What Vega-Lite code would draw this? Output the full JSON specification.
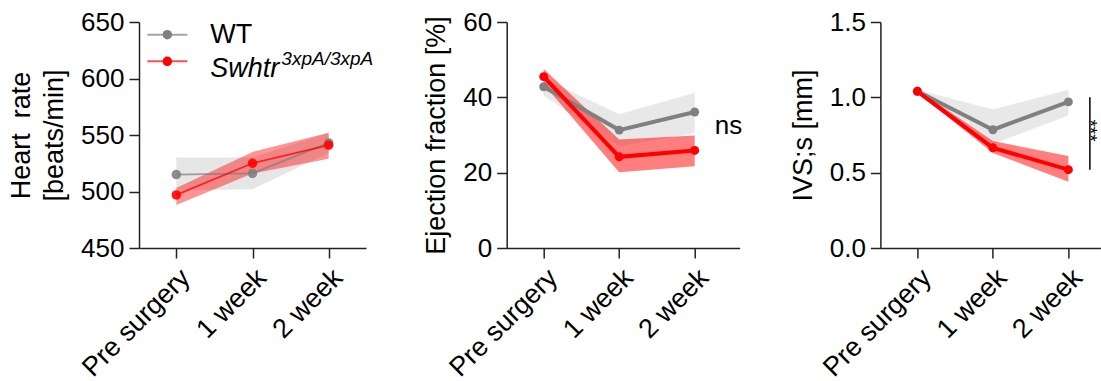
{
  "$schema": "https://vega.github.io/schema/vega-lite/v6.json",
  "padding": {"left": 7, "top": 9, "right": 0, "bottom": 0},
  "background": "white",
  "bounds": "flush",
  "spacing": 140.7,
  "datasets": {
    "d": [
      {"metric": "HR", "time": "Pre surgery", "group": "WT", "mean": 515, "lo": 501, "hi": 530},
      {"metric": "HR", "time": "1 week", "group": "WT", "mean": 516, "lo": 502, "hi": 530},
      {"metric": "HR", "time": "2 week", "group": "WT", "mean": 543, "lo": 534, "hi": 552},
      {"metric": "HR", "time": "Pre surgery", "group": "Swhtr", "mean": 497, "lo": 488, "hi": 503},
      {"metric": "HR", "time": "1 week", "group": "Swhtr", "mean": 525, "lo": 516, "hi": 535},
      {"metric": "HR", "time": "2 week", "group": "Swhtr", "mean": 541, "lo": 529, "hi": 552},
      {"metric": "EF", "time": "Pre surgery", "group": "WT", "mean": 42.8, "lo": 40.5, "hi": 45},
      {"metric": "EF", "time": "1 week", "group": "WT", "mean": 31.3, "lo": 27, "hi": 35.5},
      {"metric": "EF", "time": "2 week", "group": "WT", "mean": 36.1, "lo": 30.5, "hi": 41.2},
      {"metric": "EF", "time": "Pre surgery", "group": "Swhtr", "mean": 45.5, "lo": 43.5, "hi": 47.5},
      {"metric": "EF", "time": "1 week", "group": "Swhtr", "mean": 24.2, "lo": 20.1, "hi": 28.8},
      {"metric": "EF", "time": "2 week", "group": "Swhtr", "mean": 25.9, "lo": 21.7, "hi": 29.9},
      {"metric": "IVS", "time": "Pre surgery", "group": "WT", "mean": 1.04, "lo": 1.03, "hi": 1.05},
      {"metric": "IVS", "time": "1 week", "group": "WT", "mean": 0.785, "lo": 0.69, "hi": 0.92},
      {"metric": "IVS", "time": "2 week", "group": "WT", "mean": 0.97, "lo": 0.88, "hi": 1.05},
      {"metric": "IVS", "time": "Pre surgery", "group": "Swhtr", "mean": 1.04, "lo": 1.03, "hi": 1.05},
      {"metric": "IVS", "time": "1 week", "group": "Swhtr", "mean": 0.665, "lo": 0.63, "hi": 0.71},
      {"metric": "IVS", "time": "2 week", "group": "Swhtr", "mean": 0.52, "lo": 0.44, "hi": 0.61}
    ],
    "legend": [
      {"time": "Pre surgery", "group": "WT", "v": 638.8},
      {"time": "Pre surgery", "group": "Swhtr", "v": 615.2}
    ]
  },
  "resolve": {"scale": {"color": "independent", "y": "independent", "x": "independent"}},
  "hconcat": [
    {
      "width": 227,
      "height": 226,
      "data": {"name": "d"},
      "transform": [{"filter": "datum.metric == 'HR'"}],
      "encoding": {
        "x": {"field": "time", "type": "nominal", "sort": ["Pre surgery", "1 week", "2 week"], "scale": {"type": "point", "padding": 0.49}, "axis": {"title": null, "labelAngle": -45}},
        "y": {"type": "quantitative", "scale": {"domain": [450, 650], "nice": false, "zero": false}, "axis": {"values": [450, 500, 550, 600, 650], "title": ["Heart\u00a0\u00a0rate", "[beats/min]"], "titleLineHeight": 33}},
        "color": {"field": "group", "type": "nominal", "scale": {"domain": ["WT", "Swhtr"], "range": ["#808080", "#ff0000"]}, "legend": null}
      },
      "layer": [
        {"transform": [{"filter": "datum.group == 'WT'"}], "mark": {"type": "area", "color": "#808080", "opacity": 0.2}, "encoding": {"y": {"field": "lo"}, "y2": {"field": "hi"}, "color": null}},
        {"transform": [{"filter": "datum.group == 'Swhtr'"}], "mark": {"type": "area", "color": "#ff0000", "opacity": 0.42}, "encoding": {"y": {"field": "lo"}, "y2": {"field": "hi"}, "color": null}},
        {
          "mark": {"type": "line", "strokeWidth": 1.8, "opacity": 0.75, "point": {"filled": true, "size": 90, "opacity": 0.9}},
          "encoding": {"y": {"field": "mean"}}
        },
        {
          "data": {"name": "legend"},
          "transform": [],
          "mark": {"type": "tick", "orient": "horizontal", "size": 40, "thickness": 2, "xOffset": -9, "opacity": 0.7},
          "encoding": {"y": {"field": "v"}}
        },
        {
          "data": {"name": "legend"},
          "transform": [],
          "mark": {"type": "point", "filled": true, "size": 90, "opacity": 1, "xOffset": -9},
          "encoding": {"y": {"field": "v"}}
        },
        {
          "data": {"values": [{"time": "Pre surgery", "v": 631.7, "label": "WT"}]},
          "transform": [],
          "mark": {"type": "text", "align": "left", "baseline": "alphabetic", "xOffset": 34, "fontSize": 27, "font": "Liberation Sans", "color": "#000"},
          "encoding": {"y": {"field": "v", "type": "quantitative"}, "text": {"field": "label"}, "color": null}
        },
        {
          "data": {"values": [{"time": "Pre surgery", "v": 601.3, "label": "Swhtr"}]},
          "transform": [],
          "mark": {"type": "text", "align": "left", "baseline": "alphabetic", "xOffset": 34, "fontSize": 27, "fontStyle": "italic", "font": "Liberation Sans", "color": "#000"},
          "encoding": {"y": {"field": "v", "type": "quantitative"}, "text": {"field": "label"}, "color": null}
        },
        {
          "data": {"values": [{"time": "Pre surgery", "v": 612, "label": "3xpA/3xpA"}]},
          "transform": [],
          "mark": {"type": "text", "align": "left", "baseline": "alphabetic", "xOffset": 105, "fontSize": 19, "fontStyle": "italic", "font": "Liberation Sans", "color": "#000"},
          "encoding": {"y": {"field": "v", "type": "quantitative"}, "text": {"field": "label"}, "color": null}
        }
      ]
    },
    {
      "width": 233,
      "height": 226,
      "data": {"name": "d"},
      "transform": [{"filter": "datum.metric == 'EF'"}],
      "encoding": {
        "x": {"field": "time", "type": "nominal", "sort": ["Pre surgery", "1 week", "2 week"], "scale": {"type": "point", "padding": 0.543, "align": 0.451}, "axis": {"title": null, "labelAngle": -45}},
        "y": {"type": "quantitative", "scale": {"domain": [0, 60], "nice": false}, "axis": {"values": [0, 20, 40, 60], "title": "Ejection fraction [%]"}}
      },
      "layer": [
        {"transform": [{"filter": "datum.group == 'WT'"}], "mark": {"type": "area", "color": "#808080", "opacity": 0.18}, "encoding": {"y": {"field": "lo"}, "y2": {"field": "hi"}}},
        {"transform": [{"filter": "datum.group == 'Swhtr'"}], "mark": {"type": "area", "color": "#ff0000", "opacity": 0.5}, "encoding": {"y": {"field": "lo"}, "y2": {"field": "hi"}}},
        {
          "mark": {"type": "line", "strokeWidth": 4, "point": {"filled": true, "size": 80}},
          "encoding": {
            "y": {"field": "mean"},
            "color": {"field": "group", "type": "nominal", "scale": {"domain": ["WT", "Swhtr"], "range": ["#808080", "#ff0000"]}, "legend": null}
          }
        },
        {
          "data": {"values": [{"time": "2 week", "v": 32.3, "label": "ns"}]},
          "transform": [],
          "mark": {"type": "text", "align": "left", "baseline": "middle", "xOffset": 20, "fontSize": 26, "font": "Liberation Sans", "color": "#000"},
          "encoding": {"y": {"field": "v", "type": "quantitative"}, "text": {"field": "label"}}
        }
      ]
    },
    {
      "width": 220,
      "height": 226,
      "data": {"name": "d"},
      "transform": [{"filter": "datum.metric == 'IVS'"}],
      "encoding": {
        "x": {"field": "time", "type": "nominal", "sort": ["Pre surgery", "1 week", "2 week"], "scale": {"type": "point", "padding": 0.457, "align": 0.536}, "axis": {"title": null, "labelAngle": -45}},
        "y": {"type": "quantitative", "scale": {"domain": [0, 1.5], "nice": false}, "axis": {"values": [0, 0.5, 1, 1.5], "format": ".1f", "title": "IVS;s [mm]"}}
      },
      "layer": [
        {"transform": [{"filter": "datum.group == 'WT'"}], "mark": {"type": "area", "color": "#808080", "opacity": 0.18}, "encoding": {"y": {"field": "lo"}, "y2": {"field": "hi"}}},
        {"transform": [{"filter": "datum.group == 'Swhtr'"}], "mark": {"type": "area", "color": "#ff0000", "opacity": 0.5}, "encoding": {"y": {"field": "lo"}, "y2": {"field": "hi"}}},
        {
          "mark": {"type": "line", "strokeWidth": 4, "point": {"filled": true, "size": 80}},
          "encoding": {
            "y": {"field": "mean"},
            "color": {"field": "group", "type": "nominal", "scale": {"domain": ["WT", "Swhtr"], "range": ["#808080", "#ff0000"]}, "legend": null}
          }
        },
        {
          "data": {"values": [{"time": "2 week", "a": 1.0, "b": 0.52}]},
          "transform": [],
          "mark": {"type": "rule", "xOffset": 21.5, "color": "#000", "strokeWidth": 1.5},
          "encoding": {"y": {"field": "a", "type": "quantitative"}, "y2": {"field": "b"}}
        },
        {
          "data": {"values": [{"time": "2 week", "v": 0.78, "label": "***"}]},
          "transform": [],
          "mark": {"type": "text", "align": "center", "baseline": "alphabetic", "xOffset": 15.5, "angle": 90, "fontSize": 19, "font": "Liberation Sans", "color": "#000"},
          "encoding": {"y": {"field": "v", "type": "quantitative"}, "text": {"field": "label"}}
        }
      ]
    }
  ],
  "config": {
    "font": "Liberation Sans",
    "view": {"stroke": null},
    "axis": {"labelFont": "Liberation Sans", "titleFont": "Liberation Sans", "labelFontSize": 26, "titleFontSize": 27, "titleFontWeight": "normal", "labelColor": "#000", "titleColor": "#000", "domainColor": "#222", "tickColor": "#222", "domainWidth": 1.5, "tickWidth": 1.5, "tickSize": 10, "grid": false, "labelPadding": 5, "titlePadding": 12, "labelOverlap": false, "labelFlush": false},
    "axisX": {"labelFontSize": 27, "labelPadding": 6}
  }
}
